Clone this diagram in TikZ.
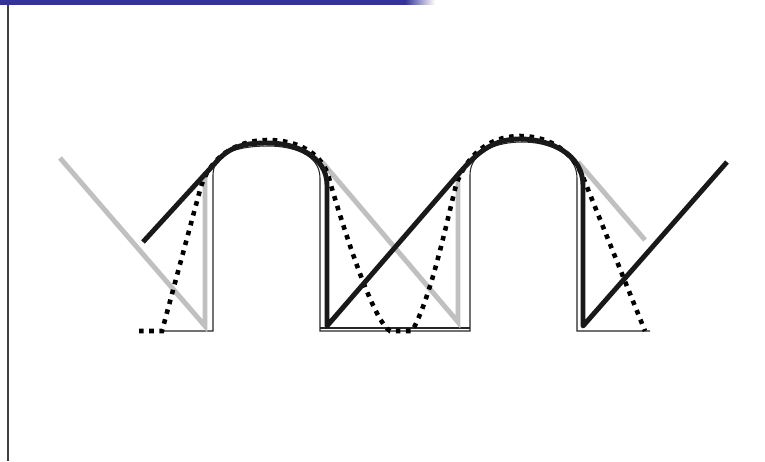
\documentclass[tikz,border=0pt]{standalone}
\usepackage{xcolor}
\usepackage{tikz}
\usetikzlibrary{calc}

\definecolor{barblue}{RGB}{52,52,152}
\definecolor{lightgray}{RGB}{192,192,192}

\begin{document}
\begin{tikzpicture}[
      x=0.02cm, y=-0.02cm,
      thinline/.style={
        draw=black!85,
        line width=0.6pt
      },
      grayline/.style={
        draw=lightgray,
        line width=2.8pt
      },
      blackline/.style={
        draw=black!90,
        line width=2.8pt,
        line join=round
      },
      dotline/.style={
        draw=black,
        line width=2.6pt,
        dash pattern=on 2.6pt off 3.2pt
      }
    ]

    \useasboundingbox (0,0) rectangle (765,461);
    \fill[white] (0,0) rectangle (765,461);

    % top bar and left rule
    \fill[barblue] (0,0) rectangle (405,4.5);
    \shade[left color=barblue, right color=white] (405,0) rectangle (435,4.5);
    \draw[draw=black!75, line width=1.2pt] (8,4.5) -- (8,461);

    % thin outline of the wave
    \draw[thinline] (160,331) -- (213,331) -- (213,175)
      to[out=90,in=180] (268,146) to[out=0,in=90] (320,178)
      -- (320,331) -- (470,331) -- (470,175)
      to[out=90,in=180] (522,142) to[out=0,in=90] (577,178)
      -- (577,331) -- (650,331);
    \draw[thinline] (320,328) -- (470,328);

    % gray trace
    \draw[grayline] (60,158) -- (205,326) -- (205,172);
    \draw[grayline] (322,162) -- (458,322) -- (458,175);
    \draw[grayline] (578,162) -- (645,240);

    % dotted trace
    \draw[dotline] (139,331) -- (162,331) -- (200,190)
      to[out=75,in=180] (268,140) to[out=0,in=100] (330,182)
      .. controls (350,250) and (375,322) .. (390,331) -- (412,331)
      .. controls (430,300) and (445,230) .. (456,185)
      to[out=70,in=180] (520,136) to[out=0,in=110] (585,182) -- (645,331);

    % black trace
    \draw[blackline] (143,242) -- (218,160)
      to[out=47,in=180] (268,143) to[out=0,in=90] (327,185)
      -- (327,326) -- (462,170)
      to[out=48,in=180] (520,139) to[out=0,in=90] (583,185)
      -- (583,326) -- (727,162);

    \end{tikzpicture}
\end{document}
